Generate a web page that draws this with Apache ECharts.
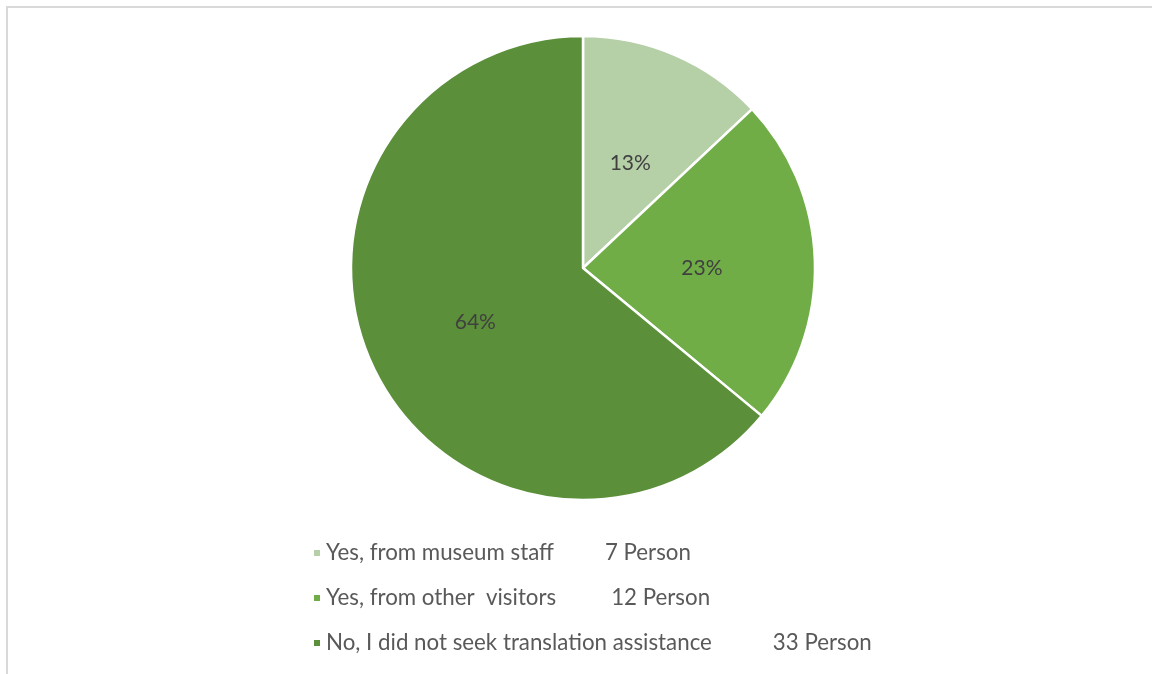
<!DOCTYPE html>
<html>
<head>
<meta charset="utf-8">
<script src="https://cdn.jsdelivr.net/npm/echarts@6/dist/echarts.min.js"></script>
<style>
  html, body { margin: 0; padding: 0; background: #fff; }
  #chart { width: 1152px; height: 674px; }
</style>
</head>
<body>
<div id="chart"></div>
<script>
// Survey answers: did visitors seek translation assistance?
const categories = [
  'Yes, from museum staff',
  'Yes, from other  visitors',
  'No, I did not seek translation assistance'
];
const persons = ['7 Person', '12 Person', '33 Person'];
const shares = [13, 23, 64];
const colors = ['#b5cfa7', '#70ad47', '#5b8f39'];
// gap between answer text and head count in the legend
const countGaps = [51, 55, 61];

const seriesData = categories.map((name, i) => ({
  name,
  value: shares[i],
  itemStyle: { color: colors[i] }
}));

const rich = {};
countGaps.forEach((w, i) => { rich['g' + i] = { width: w }; });

const chart = echarts.init(document.getElementById('chart'), null, { renderer: 'canvas' });
chart.setOption({
  backgroundColor: '#ffffff',
  animation: false,
  graphic: [{
    type: 'rect',
    shape: { x: 7, y: 7, width: 1200, height: 700 },
    style: { fill: 'none', stroke: '#d9d9d9', lineWidth: 2 },
    silent: true
  }],
  legend: {
    orient: 'vertical',
    left: 307,
    top: 536,
    icon: 'rect',
    itemWidth: 8,
    itemHeight: 8,
    itemGap: 21,
    data: categories,
    formatter: name => {
      const i = categories.indexOf(name);
      return name + '{g' + i + '| }' + persons[i];
    },
    textStyle: {
      fontFamily: 'Lato, "Liberation Sans", sans-serif',
      fontSize: 22.3,
      lineHeight: 24,
      color: '#595959',
      rich: rich
    }
  },
  series: [{
    type: 'pie',
    center: [583, 268],
    radius: [0, 232],
    startAngle: 90,
    clockwise: true,
    data: seriesData,
    itemStyle: { borderColor: '#ffffff', borderWidth: 2.5 },
    label: {
      show: true,
      position: 'inside',
      formatter: p => p.value + '%',
      fontFamily: 'Lato, "Liberation Sans", sans-serif',
      fontSize: 21,
      color: '#404040',
      offset: [0, 4]
    },
    labelLine: { show: false },
    emphasis: { disabled: true }
  }]
});
</script>
</body>
</html>
